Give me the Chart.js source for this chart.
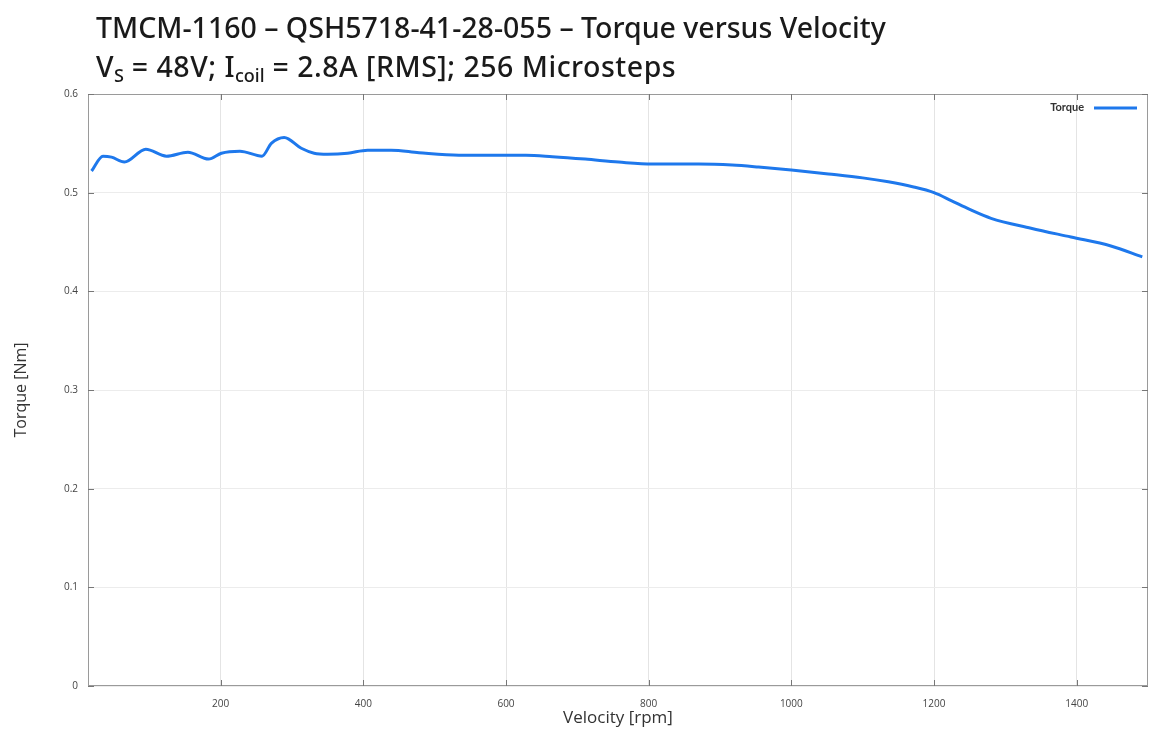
<!DOCTYPE html>
<html>
<head>
<meta charset="utf-8">
<script src="https://cdn.jsdelivr.net/npm/chart.js@4/dist/chart.umd.min.js"></script>
<style>
  html, body { margin: 0; padding: 0; background: #fff; }
  #wrap { position: relative; width: 1163px; height: 733px; }
  #title { position: absolute; left: 96px; top: 8px; font-family: "Noto Sans", sans-serif; font-weight: 500;
           font-size: 28.5px; line-height: 39px; color: #1a1a1a; white-space: nowrap; z-index: 2; }
  #title .l2 { letter-spacing: 0.5px; }
  #title sub { font-size: 18px; vertical-align: -5px; line-height: 0; letter-spacing: 0; }
  canvas { position: absolute; left: 0; top: 0; }
</style>
</head>
<body>
<div id="wrap">
  <canvas id="c" width="1163" height="733"></canvas>
  <div id="title">TMCM-1160 – QSH5718-41-28-055 – Torque versus Velocity<br><span class="l2">V<sub>S</sub> = 48V; I<sub>coil</sub> = 2.8A [RMS]; 256 Microsteps</span></div>
</div>
<script>
const velocityRpm = [19, 35, 47, 65, 95, 124, 154, 183, 201, 227, 258, 271, 289, 313, 331, 350, 378, 406, 439, 478, 534, 628, 665, 711, 758, 805, 870, 917, 954, 1000, 1052, 1100, 1136, 1170, 1200, 1224, 1250, 1280, 1336, 1392, 1448, 1492];
const torqueNm = [0.522, 0.537, 0.536, 0.531, 0.544, 0.537, 0.541, 0.534, 0.540, 0.542, 0.537, 0.550, 0.556, 0.545, 0.540, 0.539, 0.540, 0.543, 0.543, 0.5405, 0.538, 0.538, 0.5365, 0.534, 0.531, 0.529, 0.529, 0.528, 0.526, 0.523, 0.519, 0.515, 0.511, 0.506, 0.500, 0.492, 0.483, 0.474, 0.464, 0.455, 0.446, 0.435];
const xTickValues = [200, 400, 600, 800, 1000, 1200, 1400];
const yTickValues = [0, 0.1, 0.2, 0.3, 0.4, 0.5, 0.6];
const seriesLabel = 'Torque';

const points = velocityRpm.map((v, i) => ({ x: v, y: torqueNm[i] }));

const frame = {
  id: 'frame',
  afterDraw(chart) {
    const a = chart.chartArea, ctx = chart.ctx;
    ctx.save();
    ctx.strokeStyle = '#9a9a9a';
    ctx.lineWidth = 1;
    ctx.strokeRect(a.left + 0.5, a.top + 0.5, a.right - a.left - 1, a.bottom - a.top - 1);
    ctx.strokeStyle = '#777';
    const ys = chart.scales.y, xs = chart.scales.x;
    ys.ticks.forEach(t => {
      const p = Math.round(ys.getPixelForValue(t.value)) + 0.5;
      ctx.beginPath(); ctx.moveTo(a.left, p); ctx.lineTo(a.left + 6, p);
      ctx.moveTo(a.right, p); ctx.lineTo(a.right - 6, p); ctx.stroke();
    });
    xs.ticks.forEach(t => {
      const p = Math.round(xs.getPixelForValue(t.value)) + 0.5;
      ctx.beginPath(); ctx.moveTo(p, a.bottom); ctx.lineTo(p, a.bottom - 6);
      ctx.moveTo(p, a.top); ctx.lineTo(p, a.top + 6); ctx.stroke();
    });
    const ds = chart.data.datasets[0];
    ctx.font = 'bold 11px Lato';
    ctx.fillStyle = '#333';
    ctx.textAlign = 'right';
    ctx.textBaseline = 'middle';
    ctx.fillText(ds.label, a.right - 64, a.top + 13);
    ctx.strokeStyle = ds.borderColor;
    ctx.lineWidth = 3;
    ctx.beginPath(); ctx.moveTo(a.right - 54, a.top + 14); ctx.lineTo(a.right - 11, a.top + 14); ctx.stroke();
    ctx.restore();
  }
};

new Chart(document.getElementById('c'), {
  type: 'line',
  data: {
    datasets: [{
      label: seriesLabel,
      data: points,
      borderColor: '#1e78ec',
      backgroundColor: '#1e78ec',
      borderWidth: 3,
      pointRadius: 0,
      cubicInterpolationMode: 'monotone',
      fill: false
    }]
  },
  options: {
    responsive: false,
    animation: false,
    layout: { padding: { top: 94, right: 15, left: 0, bottom: 0 } },
    plugins: {
      title: { display: false },
      tooltip: { enabled: false },
      legend: { display: false }
    },
    scales: {
      x: {
        type: 'linear',
        min: 14,
        max: 1500,
        afterBuildTicks: (s) => { s.ticks = xTickValues.map(v => ({ value: v })); },
        afterFit: (s) => { s.height = 47; },
        grid: { color: '#e4e4e4', drawTicks: false },
        border: { display: false },
        ticks: { padding: 12, color: '#444', font: { family: 'Open Sans', size: 10 }, callback: (v) => String(v) },
        title: { display: true, text: 'Velocity [rpm]', color: '#333', font: { family: 'Open Sans', size: 17 }, padding: { top: 0, bottom: 5 } }
      },
      y: {
        type: 'linear',
        min: 0,
        max: 0.6,
        afterBuildTicks: (s) => { s.ticks = yTickValues.map(v => ({ value: v })); },
        afterFit: (s) => { s.width = 88; },
        grid: { color: '#ececec', drawTicks: false },
        border: { display: false },
        ticks: { padding: 10, color: '#444', font: { family: 'Open Sans', size: 10 }, callback: (v) => String(v) },
        title: { display: true, text: 'Torque [Nm]', color: '#333', font: { family: 'Open Sans', size: 16 }, padding: { top: 12, bottom: 0 } }
      }
    }
  },
  plugins: [frame]
});
</script>
</body>
</html>
